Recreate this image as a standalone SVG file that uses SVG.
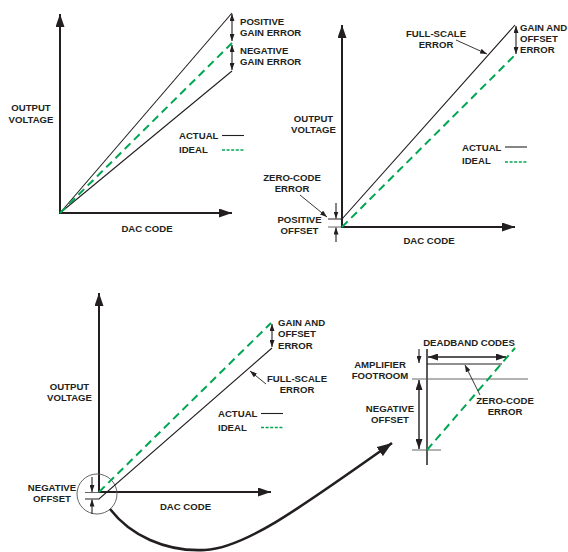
<svg xmlns="http://www.w3.org/2000/svg" width="568" height="552" viewBox="0 0 568 552">
  <style>
    text { font-family: "Liberation Sans", Arial, sans-serif; font-weight: bold; font-size: 9.6px; fill: #231f20; }
    .mid { text-anchor: middle; }
    .axis { stroke: #231f20; stroke-width: 2; fill: none; marker-end: url(#axis-head); }
    .actual { stroke: #231f20; stroke-width: 1.1; fill: none; }
    .ideal { stroke: #00a651; stroke-width: 2; stroke-dasharray: 8 5; fill: none; }
    .legend-ideal { stroke: #00a651; stroke-width: 1.6; stroke-dasharray: 3 1.6; fill: none; }
    .dim { stroke: #231f20; stroke-width: 1.1; fill: none; marker-start: url(#dim-head); marker-end: url(#dim-head); }
    .dim1 { stroke: #231f20; stroke-width: 1.1; fill: none; marker-end: url(#dim-head); }
    .dim-lg { stroke: #231f20; stroke-width: 1.4; fill: none; marker-start: url(#dim-head-lg); marker-end: url(#dim-head-lg); }
    .leader { stroke: #231f20; stroke-width: 0.9; fill: none; marker-end: url(#leader-head); }
    .thin { stroke: #555; stroke-width: 0.9; fill: none; }
  </style>
  <defs>
    <marker id="axis-head" viewBox="0 0 13 9" refX="13" refY="4.5" markerWidth="13" markerHeight="9" markerUnits="userSpaceOnUse" orient="auto">
      <path d="M0,0 L13,4.5 L0,9 z" fill="#231f20"/>
    </marker>
    <marker id="dim-head" viewBox="0 0 7 5" refX="7" refY="2.5" markerWidth="7" markerHeight="5" markerUnits="userSpaceOnUse" orient="auto-start-reverse">
      <path d="M0,0 L7,2.5 L0,5 z" fill="#231f20"/>
    </marker>
    <marker id="dim-head-lg" viewBox="0 0 10 7" refX="10" refY="3.5" markerWidth="10" markerHeight="7" markerUnits="userSpaceOnUse" orient="auto-start-reverse">
      <path d="M0,0 L10,3.5 L0,7 z" fill="#231f20"/>
    </marker>
    <marker id="leader-head" viewBox="0 0 7 5" refX="7" refY="2.5" markerWidth="7" markerHeight="5" markerUnits="userSpaceOnUse" orient="auto">
      <path d="M0,0 L7,2.5 L0,5 z" fill="#231f20"/>
    </marker>
    <marker id="curve-head" viewBox="0 0 15 11" refX="15" refY="5.5" markerWidth="15" markerHeight="11" markerUnits="userSpaceOnUse" orient="auto">
      <path d="M0,0 L15,5.5 L0,11 z" fill="#231f20"/>
    </marker>
  </defs>

  <!-- Panel A: gain error -->
  <g id="gain-error-plot">
    <line class="axis" x1="60" y1="213" x2="60" y2="14"/>
    <line class="axis" x1="59" y1="213" x2="232" y2="213"/>
    <line class="actual" x1="60" y1="213" x2="232" y2="13"/>
    <line class="actual" x1="60" y1="213" x2="232" y2="71"/>
    <line class="ideal" x1="60" y1="213" x2="232" y2="43"/>
    <line class="dim" x1="232" y1="14" x2="232" y2="41"/>
    <line class="dim" x1="232" y1="45" x2="232" y2="70"/>
    <text x="240" y="25">POSITIVE</text>
    <text x="240" y="36">GAIN ERROR</text>
    <text x="240" y="54">NEGATIVE</text>
    <text x="240" y="65">GAIN ERROR</text>
    <text class="mid" x="31" y="111">OUTPUT</text>
    <text class="mid" x="31" y="123">VOLTAGE</text>
    <text class="mid" x="147" y="232">DAC CODE</text>
    <text x="179" y="139">ACTUAL</text>
    <line class="actual" x1="222" y1="135.5" x2="244" y2="135.5"/>
    <text x="179" y="153">IDEAL</text>
    <line class="legend-ideal" x1="222" y1="150" x2="244" y2="150"/>
  </g>

  <!-- Panel B: positive offset -->
  <g id="positive-offset-plot">
    <line class="axis" x1="342" y1="227" x2="342" y2="25"/>
    <line class="axis" x1="341" y1="227" x2="515" y2="227"/>
    <line class="thin" x1="328" y1="227" x2="342" y2="227"/>
    <polyline class="actual" points="328,219 342,219 515,25"/>
    <line class="ideal" x1="342" y1="227" x2="515" y2="55"/>
    <line class="dim" x1="516" y1="26" x2="516" y2="54"/>
    <line class="dim1" x1="336" y1="203" x2="336" y2="218.5"/>
    <line class="dim1" x1="336" y1="242" x2="336" y2="227.5"/>
    <line class="leader" x1="300" y1="195" x2="327" y2="217"/>
    <line class="leader" x1="456" y1="40" x2="487" y2="54"/>
    <text class="mid" x="436" y="37">FULL-SCALE</text>
    <text class="mid" x="436" y="48">ERROR</text>
    <text x="520" y="31">GAIN AND</text>
    <text x="520" y="42">OFFSET</text>
    <text x="520" y="53">ERROR</text>
    <text class="mid" x="313.5" y="122">OUTPUT</text>
    <text class="mid" x="313.5" y="133">VOLTAGE</text>
    <text class="mid" x="292" y="181">ZERO-CODE</text>
    <text class="mid" x="292" y="192">ERROR</text>
    <text class="mid" x="299.5" y="223">POSITIVE</text>
    <text class="mid" x="299.5" y="234">OFFSET</text>
    <text class="mid" x="429" y="244">DAC CODE</text>
    <text x="462" y="151">ACTUAL</text>
    <line class="actual" x1="505" y1="147" x2="527" y2="147"/>
    <text x="462" y="164">IDEAL</text>
    <line class="legend-ideal" x1="505" y1="162" x2="527" y2="162"/>
  </g>

  <!-- Panel C: negative offset -->
  <g id="negative-offset-plot">
    <line class="axis" x1="99" y1="492" x2="99" y2="293"/>
    <line class="axis" x1="98" y1="492" x2="271" y2="492"/>
    <circle cx="97" cy="494" r="20" fill="none" stroke="#555" stroke-width="0.9"/>
    <line class="thin" x1="85" y1="492.5" x2="99" y2="492.5"/>
    <polyline class="actual" points="85,499 99,499 272,348"/>
    <line class="ideal" x1="99" y1="492" x2="271" y2="323"/>
    <line class="dim" x1="272" y1="324" x2="272" y2="347"/>
    <line class="dim1" x1="92" y1="477" x2="92" y2="492"/>
    <line class="dim1" x1="92" y1="514" x2="92" y2="499.5"/>
    <line class="leader" x1="266" y1="384" x2="250" y2="371"/>
    <text x="278" y="326">GAIN AND</text>
    <text x="278" y="337">OFFSET</text>
    <text x="278" y="349">ERROR</text>
    <text class="mid" x="297" y="382">FULL-SCALE</text>
    <text class="mid" x="297" y="393">ERROR</text>
    <text class="mid" x="69.5" y="390">OUTPUT</text>
    <text class="mid" x="69.5" y="401">VOLTAGE</text>
    <text class="mid" x="52" y="491">NEGATIVE</text>
    <text class="mid" x="52" y="502">OFFSET</text>
    <text class="mid" x="185.5" y="510">DAC CODE</text>
    <text x="218" y="417">ACTUAL</text>
    <line class="actual" x1="261" y1="413.5" x2="283" y2="413.5"/>
    <text x="218" y="431">IDEAL</text>
    <line class="legend-ideal" x1="261" y1="427.5" x2="283" y2="427.5"/>
  </g>

  <!-- Panel D: enlarged origin detail -->
  <g id="deadband-detail">
    <line stroke="#231f20" stroke-width="1.5" x1="427" y1="349" x2="427" y2="465"/>
    <line class="thin" x1="412" y1="379" x2="528" y2="379"/>
    <line class="thin" x1="412" y1="450" x2="441" y2="450"/>
    <line class="actual" x1="427" y1="364" x2="502" y2="364"/>
    <line class="ideal" x1="427" y1="450" x2="515" y2="348"/>
    <line class="dim-lg" x1="428" y1="357" x2="506" y2="357"/>
    <line class="dim1" x1="419" y1="349" x2="419" y2="363"/>
    <line class="dim-lg" x1="419" y1="380" x2="419" y2="449"/>
    <line class="leader" x1="480" y1="395" x2="465" y2="365"/>
    <text class="mid" x="469" y="346">DEADBAND CODES</text>
    <text class="mid" x="380" y="368">AMPLIFIER</text>
    <text class="mid" x="380" y="379">FOOTROOM</text>
    <text class="mid" x="390" y="412">NEGATIVE</text>
    <text class="mid" x="390" y="423">OFFSET</text>
    <text class="mid" x="505" y="404">ZERO-CODE</text>
    <text class="mid" x="505" y="415">ERROR</text>
  </g>

  <!-- Connector: circled origin to enlarged detail -->
  <g id="connectors">
    <path d="M110,509 C130,535 165,552 205,550 C245,548 300,508 392,443" fill="none" stroke="#231f20" stroke-width="2.6" marker-end="url(#curve-head)"/>
  </g>
</svg>
